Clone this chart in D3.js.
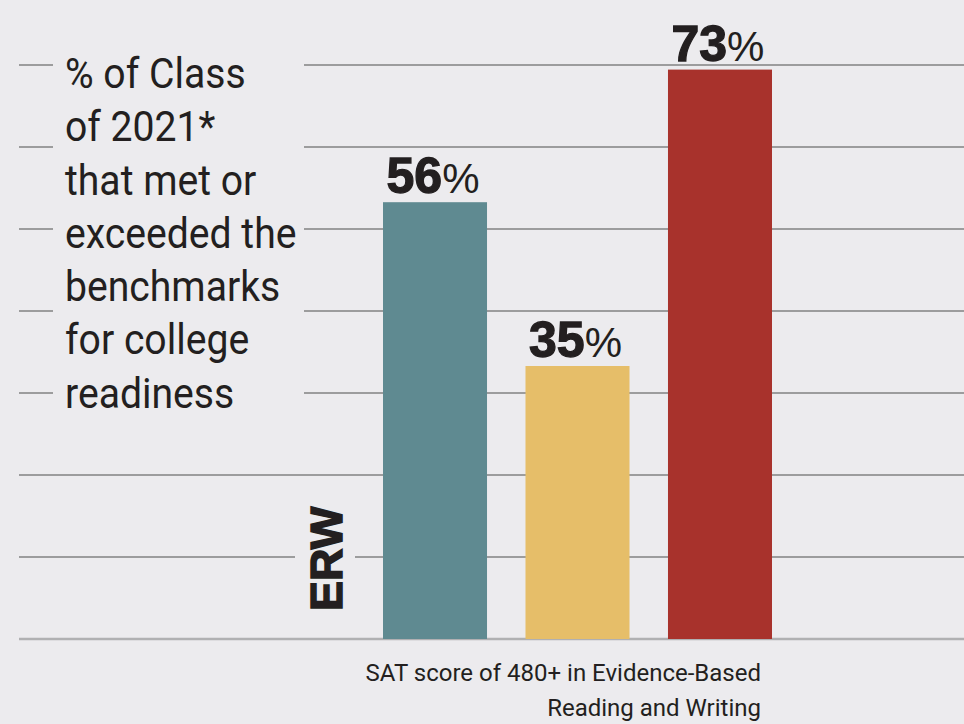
<!DOCTYPE html>
<html>
<head>
<meta charset="utf-8">
<script src="https://cdn.jsdelivr.net/npm/d3@7"></script>
<style>
  html, body { margin: 0; padding: 0; background: #ecebee; }
  svg { display: block; }
</style>
</head>
<body>
<svg id="chart"></svg>
<script>
var width = 964;
var height = 724;

// data
var categories = ["a", "b", "c"];
var values = [56, 35, 73];
var colors = ["#5f8a91", "#e6be69", "#a8322c"];
var gridLevels = [0, 1, 2, 3, 4, 5, 6, 7];
var titleLines = ["% of Class", "of 2021*", "that met or", "exceeded the", "benchmarks", "for college", "readiness"];
var axisLines = ["SAT score of 480+ in Evidence-Based", "Reading and Writing"];
var sideLabel = "ERW";

var svg = d3.select("#chart")
    .attr("width", width)
    .attr("height", height);

svg.append("rect")
    .attr("width", width)
    .attr("height", height)
    .attr("fill", "#ecebee");

var baseY = 639;

var x = d3.scaleBand()
    .domain(categories)
    .range([383, 772])
    .paddingInner(0.27)
    .paddingOuter(0);

var y = d3.scaleLinear()
    .domain([0, 100])
    .range([baseY, baseY - 780]);

var grid = d3.scaleLinear()
    .domain([0, 7])
    .range([baseY, baseY - 574]);

// gridlines
svg.append("g").selectAll("line")
    .data(gridLevels)
    .enter().append("line")
    .attr("x1", 19)
    .attr("x2", width)
    .attr("y1", function(d) { return grid(d); })
    .attr("y2", function(d) { return grid(d); })
    .attr("stroke", function(d) { return d === 0 ? "#b0b0b2" : "#828282"; })
    .attr("stroke-width", function(d) { return d === 0 ? 2.5 : 1.5; });

// gaps in gridlines behind labels
svg.append("rect")
    .attr("x", 53).attr("y", 45)
    .attr("width", 251).attr("height", 372)
    .attr("fill", "#ecebee");
svg.append("rect")
    .attr("x", 295).attr("y", 500)
    .attr("width", 60).attr("height", 120)
    .attr("fill", "#ecebee");

// bars
var bar = svg.append("g").selectAll("g")
    .data(values)
    .enter().append("g");

bar.append("rect")
    .attr("x", function(d, i) { return x(categories[i]); })
    .attr("y", function(d) { return y(d); })
    .attr("width", x.bandwidth())
    .attr("height", function(d) { return baseY - y(d); })
    .attr("fill", function(d, i) { return colors[i]; });

var lab = bar.append("text")
    .attr("x", function(d, i) { return x(categories[i]) + x.bandwidth() / 2 - 2; })
    .attr("y", function(d) { return y(d) - 9; })
    .attr("text-anchor", "middle")
    .attr("fill", "#231f20")
    .style("font-family", "'Liberation Sans', Arial, sans-serif");

lab.append("tspan")
    .style("font-size", "50px")
    .style("font-weight", "bold")
    .attr("stroke", "#231f20")
    .attr("stroke-width", 1.3)
    .text(function(d) { return d; });
lab.append("tspan")
    .style("font-size", "42px")
    .text("%");

// left title
var title = svg.append("g")
    .attr("transform", "translate(65,0) scale(0.91,1)");
title.selectAll("text")
    .data(titleLines)
    .enter().append("text")
    .attr("x", 0)
    .attr("y", function(d, i) { return 88 + i * 53.3; })
    .attr("fill", "#231f20")
    .style("font-family", "Roboto, 'Liberation Sans', sans-serif")
    .style("font-size", "43px")
    .text(function(d) { return d; });

// rotated ERW
svg.append("text")
    .attr("transform", "translate(342,611) rotate(-90)")
    .attr("fill", "#231f20")
    .attr("stroke", "#231f20")
    .attr("stroke-width", 1.5)
    .style("font-family", "'Liberation Sans', Arial, sans-serif")
    .style("font-size", "45px")
    .style("font-weight", "bold")
    .text(sideLabel);

// axis label
svg.append("g").selectAll("text")
    .data(axisLines)
    .enter().append("text")
    .attr("x", 761)
    .attr("y", function(d, i) { return 681 + i * 35; })
    .attr("text-anchor", "end")
    .attr("fill", "#231f20")
    .style("font-family", "Roboto, 'Liberation Sans', sans-serif")
    .style("font-size", "24px")
    .text(function(d) { return d; });
</script>
</body>
</html>
